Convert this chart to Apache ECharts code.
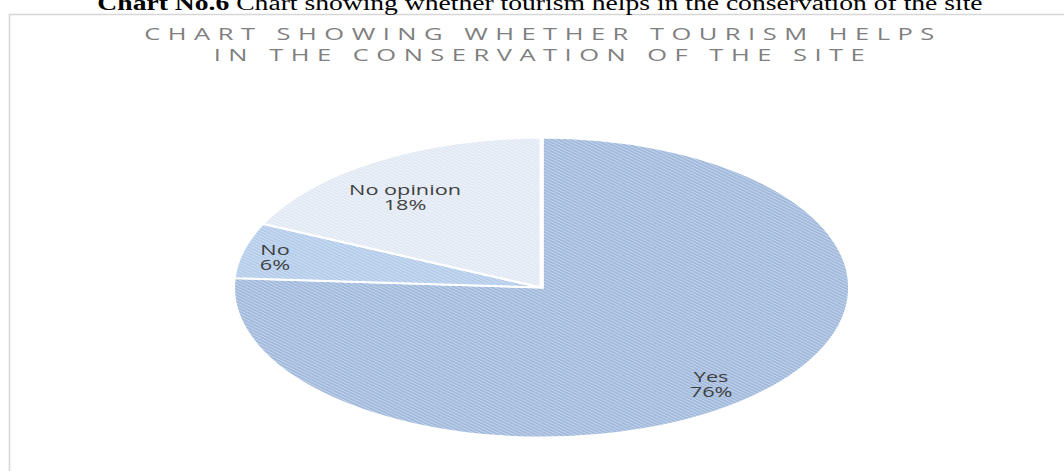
<!DOCTYPE html>
<html>
<head>
<meta charset="utf-8">
<script src="https://cdn.jsdelivr.net/npm/echarts@6/dist/echarts.min.js"></script>
<style>
  html, body { margin: 0; padding: 0; background: #ffffff; }
  #chart { width: 1064px; height: 471px; }
  /* spaced-out capitals for the chart heading */
  #chart svg text[fill="#7f7f7f"] { letter-spacing: 5px; }
</style>
</head>
<body>
<div id="chart"></div>
<script>
// Survey answers and their shares (percent)
const categories = ['Yes', 'No', 'No opinion'];
const values = [76, 6, 18];

// Heading and caption text
const caption = 'Chart No.6';
const captionRest = ' Chart showing whether tourism helps in the conservation of the site';
const titleLines = ['CHART SHOWING WHETHER TOURISM HELPS', 'IN THE CONSERVATION OF THE SITE'];

// Hatched fills: [background, stripe]
const sliceFills = [
  ['#c3d4eb', '#809fcb'],
  ['#cddef3', '#9bbae1'],
  ['#eff3f9', '#d2deef']
];
// Small shifts of each label from its default anchor (px)
const labelNudge = [[-10, 3.5], [-12.5, 1], [4, 17]];

function stripePattern(bg, line) {
  const c = document.createElement('canvas');
  c.width = 3; c.height = 3;
  const g = c.getContext('2d');
  g.fillStyle = bg; g.fillRect(0, 0, 3, 3);
  g.fillStyle = line;
  for (let i = 0; i < 3; i++) g.fillRect(i, i, 1, 1);
  return { image: c, repeat: 'repeat', imageWidth: 3, imageHeight: 3 };
}
const patterns = sliceFills.map(f => stripePattern(f[0], f[1]));

const total = values.reduce((a, b) => a + b, 0);
const startShare = values.map((v, i) => values.slice(0, i).reduce((a, b) => a + b, 0) / total);

const chart = echarts.init(document.getElementById('chart'), null, { renderer: 'svg' });

function renderSlice(params, api) {
  const i = params.dataIndex;
  const W = api.getWidth(), H = api.getHeight();
  const cx = W * 0.509, cy = H * 0.6105, R = H * 0.3185, k = 2.057;
  const share = api.value(0) / total;
  const a0 = -Math.PI / 2 + startShare[i] * 2 * Math.PI;
  const a1 = a0 + share * 2 * Math.PI;
  const mid = (a0 + a1) / 2;
  const lx = cx + 0.85 * R * k * Math.cos(mid) + labelNudge[i][0];
  const ly = cy + 0.85 * R * Math.sin(mid) + labelNudge[i][1];
  return {
    type: 'group',
    children: [
      {
        type: 'sector',
        x: cx, y: cy, scaleX: k, scaleY: 1,
        shape: { cx: 0, cy: 0, r: R, r0: 0, startAngle: a0, endAngle: a1, clockwise: true },
        style: { fill: patterns[i], stroke: '#ffffff', lineWidth: 2, strokeNoScale: true }
      },
      {
        type: 'text',
        x: lx, y: ly, scaleX: 1.55, scaleY: 1,
        style: {
          text: categories[i] + '\n' + Math.round(share * 100) + '%',
          fill: '#404040', fontSize: 14, fontFamily: '"Open Sans"',
          align: 'center', verticalAlign: 'middle', lineHeight: 15
        }
      }
    ]
  };
}

chart.setOption({
  animation: false,
  backgroundColor: '#ffffff',
  graphic: [
    {
      type: 'rect', left: 7, top: 12, silent: true,
      shape: { x: 0, y: 0, width: 1100, height: 500 },
      style: { fill: 'none', stroke: '#d6d6d6', lineWidth: 1.5 }
    },
    {
      type: 'text', x: 540, y: 3, scaleX: 1.38, silent: true,
      style: {
        text: '{b|' + caption + '}' + captionRest,
        rich: { b: { fontWeight: 'bold', fontSize: 20, fontFamily: '"Liberation Serif"', fill: '#000000' } },
        fontSize: 20, fontFamily: '"Liberation Serif"', fill: '#000000',
        align: 'center', verticalAlign: 'middle'
      }
    },
    {
      type: 'text', x: 543, y: 33, scaleX: 1.5, silent: true,
      style: { text: titleLines[0], fill: '#7f7f7f', fontSize: 17, fontFamily: '"Open Sans"', align: 'center', verticalAlign: 'middle' }
    },
    {
      type: 'text', x: 543, y: 54.5, scaleX: 1.5, silent: true,
      style: { text: titleLines[1], fill: '#7f7f7f', fontSize: 17, fontFamily: '"Open Sans"', align: 'center', verticalAlign: 'middle' }
    }
  ],
  series: [{
    type: 'custom',
    coordinateSystem: 'none',
    silent: true,
    renderItem: renderSlice,
    data: categories.map((c, i) => ({ name: c, value: values[i] }))
  }]
});
</script>
</body>
</html>
